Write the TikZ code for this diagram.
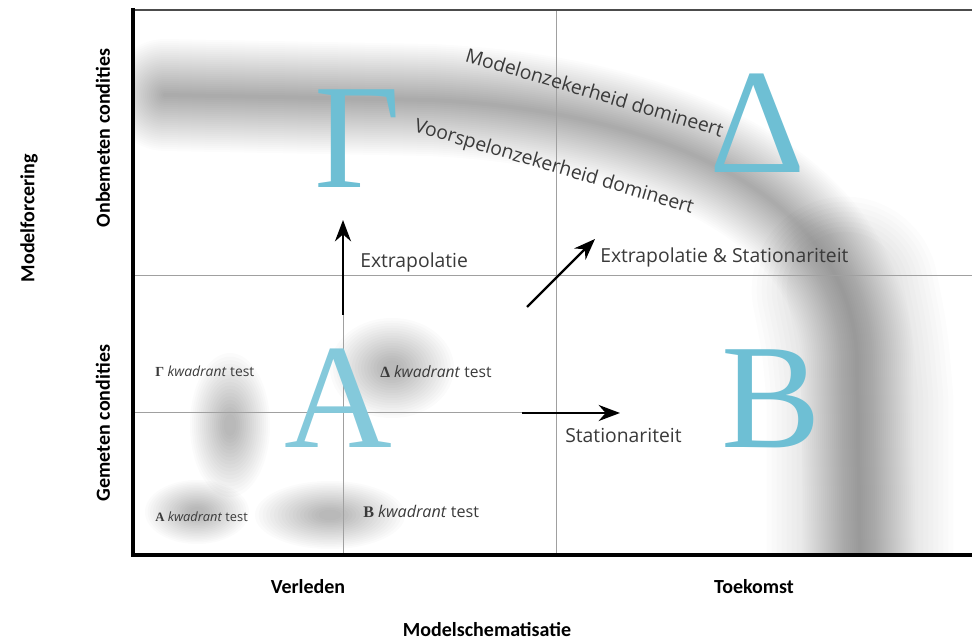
\documentclass[tikz,border=0pt]{standalone}
\usepackage{fontspec}
\setmainfont{Liberation Serif}
\newfontfamily\osans{Open Sans}
\newfontfamily\carl{Carlito}
\usetikzlibrary{arrows.meta}
\definecolor{letterblue}{HTML}{6EBFD4}
\definecolor{gridgray}{HTML}{A0A0A0}
\definecolor{txtgray}{HTML}{3A3A3A}
\tikzset{
  bigletter/.style={inner sep=0, anchor=base, text=letterblue, font=\fontsize{112}{112}\selectfont},
  plottext/.style={inner sep=0, anchor=base west, text=txtgray, font=\osans\fontsize{14.5}{16}\selectfont},
  axislabel/.style={inner sep=0, font=\carl\bfseries\fontsize{15}{17}\selectfont},
  gridline/.style={draw=gridgray, line width=0.75pt},
  flowarrow/.style={line width=1.8pt, -{Stealth[length=16pt,width=12pt]}},
  quadlabel/.style={inner sep=0, anchor=base west, text=txtgray},
  blurband/.style={draw=black, opacity=0.012, line cap=round, line join=round},
  blob/.style={fill=black, opacity=0.016},
}
\begin{document}
\begin{tikzpicture}[x=0.75pt, y=-0.75pt]
\useasboundingbox (0,0) rectangle (972,641);
\fill[white] (0,0) rectangle (972,641);

% blurred band and blobs
\begin{scope}
  \clip (133,10) rectangle (972,555);
  \foreach \w in {4,8,...,112} {
    \draw[blurband, line width=\w*0.75pt] (165,95) -- (430,100) .. controls (650,110) and (852,190) .. (857,360) -- (860,575);
  }
  \foreach \w in {10,20,...,80} {
    \draw[blurband, line width=\w*0.75pt+80pt] (845,290) .. controls (855,340) .. (860,400) -- (860,575);
  }
  \foreach \s in {20,19,...,3} {
    \fill[blob] (230,425) ellipse ({40*\s/20} and {72*\s/20});
    \fill[blob] (392,368) ellipse ({62*\s/20} and {50*\s/20});
    \fill[blob] (197,512) ellipse ({52*\s/20} and {32*\s/20});
    \fill[blob] (330,515) ellipse ({75*\s/20} and {34*\s/20});
  }
\end{scope}

% grid lines
\coordinate (hmL) at (133,276); \coordinate (hmR) at (972,276);
\coordinate (vmT) at (556,10);  \coordinate (vmB) at (556,555);
\coordinate (vqT) at (343,276); \coordinate (vqB) at (343,555);
\coordinate (hqL) at (133,413); \coordinate (hqR) at (522,413);
\draw[gridline] (hmL) -- (hmR);
\draw[gridline] (vmT) -- (vmB);
\draw[gridline] (vqT) -- (vqB);
\draw[gridline] (hqL) -- (hqR);

% big letters
\node[bigletter] (gamma) at (358,188) {Γ};
\node[bigletter] (delta) at (758,173) {Δ};
\node[bigletter, text=letterblue!85] (alpha) at (338,448) {A};
\node[bigletter] (beta)  at (771,448) {B};

% arrows
\coordinate (up0) at (343,315); \coordinate (up1) at (343,220);
\coordinate (dg0) at (527,307); \coordinate (dg1) at (595,239);
\coordinate (rt0) at (522,413); \coordinate (rt1) at (620,413);
\draw[flowarrow] (up0) -- (up1);
\draw[flowarrow] (dg0) -- (dg1);
\draw[flowarrow] (rt0) -- (rt1);

% texts in plot
\node[plottext] (extra) at (360,268) {Extrapolatie};
\node[plottext] (extrastat) at (600,263) {Extrapolatie \& Stationariteit};
\node[plottext] (stat) at (565,443) {Stationariteit};
\node[plottext, rotate=-16.5] (modunc) at (464,61) {Modelonzekerheid domineert};
\node[plottext, rotate=-16.5] (predunc) at (413,131) {Voorspelonzekerheid domineert};

% quadrant test labels
\node[quadlabel, font=\osans\fontsize{10.4}{12}\selectfont] (qg) at (155,377) {{\rmfamily\bfseries Γ} \textit{kwadrant} test};
\node[quadlabel, font=\osans\fontsize{11.7}{13}\selectfont] (qd) at (380,378) {{\rmfamily\bfseries Δ} \textit{kwadrant} test};
\node[quadlabel, font=\osans\fontsize{9.6}{12}\selectfont] (qa) at (155,522) {{\rmfamily\bfseries A} \textit{kwadrant} test};
\node[quadlabel, font=\osans\fontsize{12.1}{13}\selectfont] (qb) at (363,518) {{\rmfamily\bfseries B} \textit{kwadrant} test};

% frame
\coordinate (fTL) at (133,10); \coordinate (fTR) at (972,10);
\coordinate (fBL) at (133,555); \coordinate (fBR) at (972,555);
\draw[line width=1.5pt, draw=black!70] (fTL) -- (fTR);
\draw[line width=3.6pt, line join=miter] (133,8) -- (fBL) -- (fBR);

% axis labels
\node[axislabel, anchor=base] (past) at (308,594) {Verleden};
\node[axislabel, anchor=base] (future) at (754,594) {Toekomst};
\node[axislabel, anchor=base] (xaxis) at (487,637) {Modelschematisatie};
\node[axislabel, rotate=90] (yaxis) at (29,218) {Modelforcering};
\node[axislabel, rotate=90] (unmeas) at (103,138) {Onbemeten condities};
\node[axislabel, rotate=90] (meas) at (103,423) {Gemeten condities};
\end{tikzpicture}
\end{document}
